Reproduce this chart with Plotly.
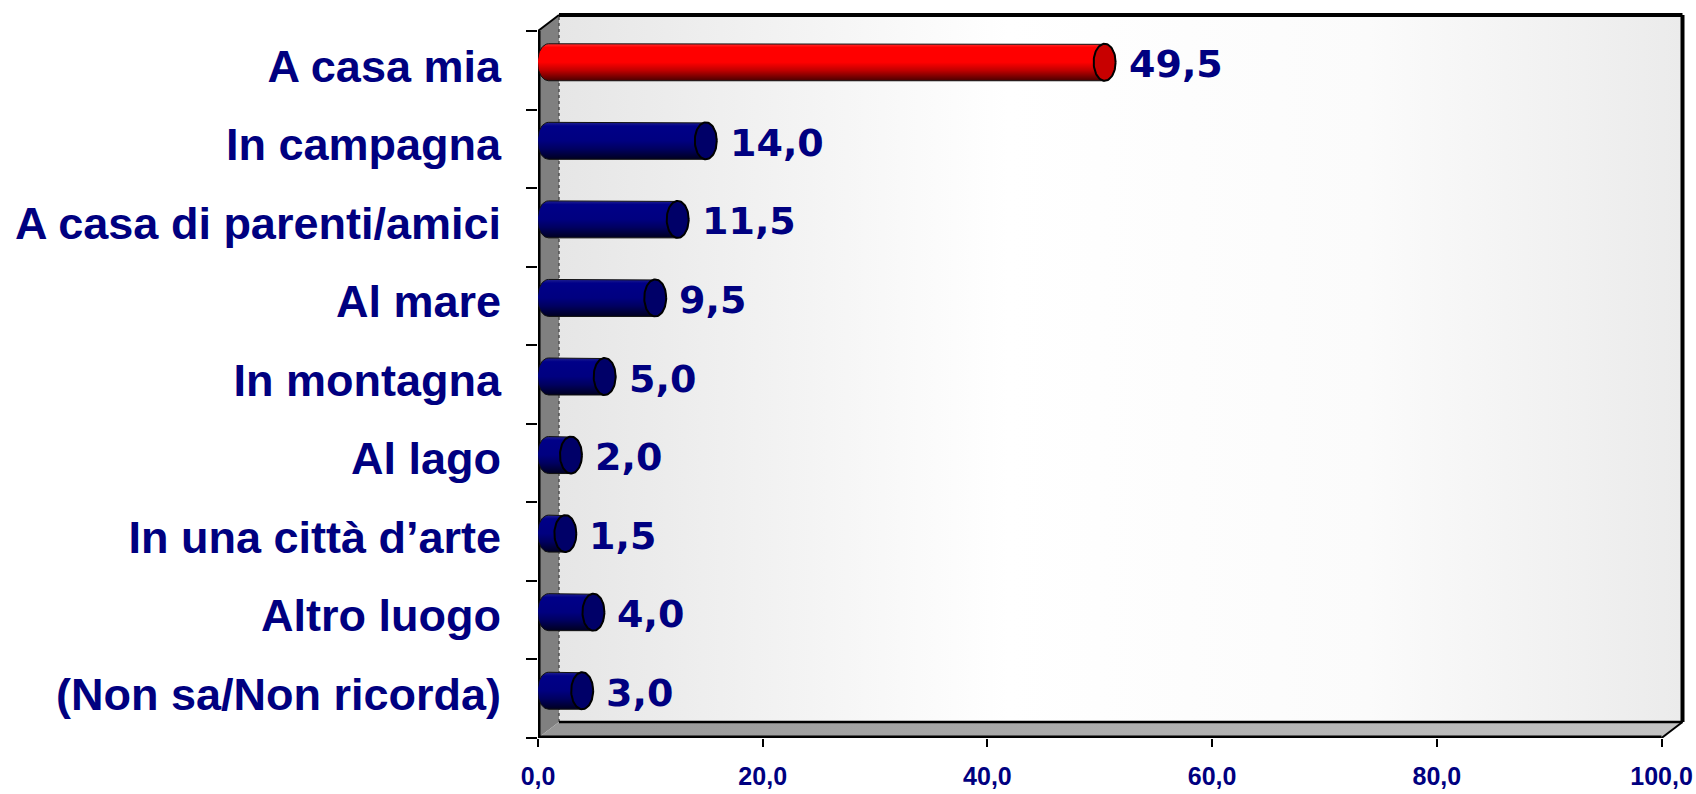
import numpy as np
import plotly.graph_objects as go

# ---- data ----
categories = ["A casa mia", "In campagna", "A casa di parenti/amici", "Al mare",
              "In montagna", "Al lago", "In una città d’arte", "Altro luogo",
              "(Non sa/Non ricorda)"]
values = [49.5, 14.0, 11.5, 9.5, 5.0, 2.0, 1.5, 4.0, 3.0]
highlight = [True, False, False, False, False, False, False, False, False]
x_tickvals = [0, 20, 40, 60, 80, 100]
x_ticktext = ["0,0", "20,0", "40,0", "60,0", "80,0", "100,0"]

# ---- geometry / style ----
W, H = 1696, 794
NAVY = "#000080"
n = len(categories)
XMAX = 100
L, B = 537.5, 56
px_x = (1662 - 537.5) / XMAX          # px per x unit
px_y = (738 - 30.5) / n               # px per category
dxu = 21 / px_x                       # depth offset in x units
dyu = 16 / px_y                       # depth offset in y units
pad_x = 3.5 / px_x
pad_y = 4 / px_y
label_lift = 4.5 / px_y               # category labels sit slightly above band centre
x_range = [0, XMAX + dxu + pad_x]
y_range = [-0.5, n - 0.5 + dyu + pad_y]
plot_w = (x_range[1] - x_range[0]) * px_x
plot_h = (y_range[1] - y_range[0]) * px_y
R = W - L - plot_w
T = H - B - plot_h

fig = go.Figure()

y0f, y1f = -0.5, n - 0.5   # front bottom / top
# back wall
fig.add_trace(go.Scatter(
    x=[dxu, XMAX + dxu, XMAX + dxu, dxu, dxu],
    y=[y0f + dyu, y0f + dyu, y1f + dyu, y1f + dyu, y0f + dyu],
    mode="lines", line=dict(width=0), fill="toself",
    fillgradient=dict(type="horizontal",
                      colorscale=[[0, "#e6e6e6"], [0.4, "#ffffff"], [0.72, "#fbfbfb"], [1, "#ebebeb"]]),
    hoverinfo="skip", showlegend=False))
# left wall
fig.add_trace(go.Scatter(
    x=[0, 0, dxu, dxu, 0],
    y=[y0f, y1f, y1f + dyu, y0f + dyu, y0f],
    mode="lines", line=dict(width=0), fill="toself", fillcolor="#808080",
    hoverinfo="skip", showlegend=False))
# floor
fig.add_trace(go.Scatter(
    x=[0, XMAX, XMAX + dxu, dxu, 0],
    y=[y0f, y0f, y0f + dyu, y0f + dyu, y0f],
    mode="lines", line=dict(width=0), fill="toself",
    fillgradient=dict(type="horizontal",
                      colorscale=[[0, "#969696"], [1, "#c4c4c4"]]),
    hoverinfo="skip", showlegend=False))

# edges
def seg(xs, ys, width, color="black", dash="solid"):
    fig.add_trace(go.Scatter(x=xs, y=ys, mode="lines",
                             line=dict(color=color, width=width, dash=dash),
                             hoverinfo="skip", showlegend=False))

seg([dxu, dxu], [y0f + dyu, y1f + dyu], 1.5, "#505050", "dot")
seg([dxu, XMAX + dxu], [y0f + dyu, y0f + dyu], 2.5)
seg([XMAX, XMAX + dxu], [y0f, y0f + dyu], 2)
seg([0, dxu], [y1f, y1f + dyu], 2)
seg([dxu, XMAX + dxu], [y1f + dyu, y1f + dyu], 4)
seg([XMAX + dxu, XMAX + dxu], [y0f + dyu, y1f + dyu], 4)
seg([0, XMAX], [y0f, y0f], 5)
seg([0, 0], [y0f, y1f], 5)

# cylinders
hh = 18.5 / px_y
a = 11 / px_x
t_right = np.linspace(np.pi / 2, -np.pi / 2, 40)
t_left = np.linspace(3 * np.pi / 2, np.pi / 2, 40)
t_full = np.linspace(0, 2 * np.pi, 80)
annotations = []
for i, (cat, v, hl) in enumerate(zip(categories, values, highlight)):
    p = n - 1 - i
    yc = p + dyu / 2
    xs = dxu / 2
    xe = v + dxu / 2
    bx = np.concatenate([[xs], xe + a * np.cos(t_right), xs + a * np.cos(t_left)])
    by = np.concatenate([[yc + hh], yc + hh * np.sin(t_right), yc + hh * np.sin(t_left)])
    if hl:
        cs = [[0, "#4a0000"], [0.28, "#c00000"], [0.5, "#ff0000"], [0.9, "#ff0000"], [1, "#ff3030"]]
        capc = "#c80000"
    else:
        cs = [[0, "#000020"], [0.28, "#000060"], [0.5, "#000080"], [0.9, "#000088"], [1, "#20208f"]]
        capc = "#000068"
    fig.add_trace(go.Scatter(x=bx, y=by, mode="lines", fill="toself",
                             line=dict(color="#111111", width=1),
                             fillgradient=dict(type="vertical", colorscale=cs),
                             hoverinfo="skip", showlegend=False))
    fig.add_trace(go.Scatter(x=xe + a * np.cos(t_full), y=yc + hh * np.sin(t_full),
                             mode="lines", fill="toself", fillcolor=capc,
                             line=dict(color="black", width=2),
                             hoverinfo="skip", showlegend=False))
    annotations.append(dict(
        x=xe + a, y=yc, xref="x", yref="y", xanchor="left", yanchor="middle",
        xshift=11, yshift=-2, showarrow=False,
        text=f"{v:.1f}".replace(".", ","),
        font=dict(family="DejaVu Sans", size=38, color=NAVY, weight="bold")))

fig.update_layout(
    width=W, height=H,
    margin=dict(l=L, r=R, t=T, b=B, pad=0, autoexpand=False),
    paper_bgcolor="white", plot_bgcolor="white",
    showlegend=False,
    annotations=annotations,
    xaxis=dict(range=x_range, tickvals=x_tickvals, ticktext=x_ticktext,
               ticks="outside", ticklen=8, tickwidth=2, tickcolor="black",
               showgrid=False, zeroline=False, showline=False,
               ticklabelstandoff=8,
               tickfont=dict(family="Liberation Sans", size=25, color=NAVY, weight="bold"),
               fixedrange=True),
    yaxis=dict(range=y_range, tickvals=[k + label_lift for k in range(n)],
               ticktext=categories[::-1],
               ticks="", showgrid=False, zeroline=False, showline=False,
               ticklabelstandoff=36,
               minor=dict(tickvals=[k - 0.5 for k in range(n + 1)], ticks="outside",
                          ticklen=11, tickwidth=2, tickcolor="black", showgrid=False),
               tickfont=dict(family="Liberation Sans", size=45, color=NAVY, weight="bold"),
               fixedrange=True),
)

fig.write_html("out.html", config={"displayModeBar": False},
               post_script="document.body.style.margin='0px';document.body.style.overflow='hidden';")
